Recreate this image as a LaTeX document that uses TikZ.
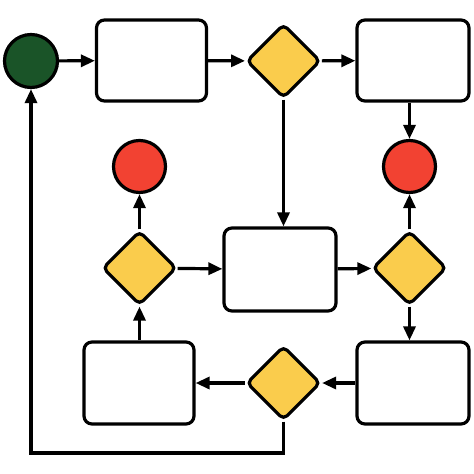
\documentclass[tikz,border=0pt]{standalone}
\usetikzlibrary{shapes.geometric,arrows.meta}
\definecolor{startgreen}{RGB}{26,84,40}
\definecolor{endred}{RGB}{242,66,50}
\definecolor{gateyellow}{RGB}{250,204,76}
\begin{document}
\begin{tikzpicture}[x=1pt,y=-1pt,
  every path/.style={line width=3.2pt},
  flow/.style={line width=3.2pt,-{Triangle[length=14pt,width=12pt]}},
  task/.style={draw,line width=3.2pt,rectangle,rounded corners=8pt,fill=white,inner sep=0pt,minimum width=110pt,minimum height=81pt},
  gate/.style={draw,line width=3.2pt,diamond,aspect=1,rounded corners=5pt,fill=gateyellow,inner sep=0pt,minimum width=74pt,minimum height=74pt},
  startev/.style={draw,line width=3.2pt,circle,fill=startgreen,inner sep=0pt,minimum size=53pt},
  endev/.style={draw,line width=3.2pt,circle,fill=endred,inner sep=0pt,minimum size=52pt}]
\useasboundingbox (0,0) rectangle (474,474);
\node[startev] (s) at (31,61) {};
\node[task] (b1) at (151.5,60.5) {};
\node[gate] (d1) at (283.5,61) {};
\node[task,minimum width=112pt] (b2) at (413,60.5) {};
\node[endev] (r1) at (139.5,166.5) {};
\node[endev] (r2) at (409.5,166.5) {};
\node[gate] (d2) at (139.5,268) {};
\node[task,minimum width=112pt,minimum height=83pt] (b3) at (280,269.5) {};
\node[gate] (d3) at (409.5,268) {};
\node[task,minimum height=82pt] (b4) at (139,383) {};
\node[gate] (d4) at (283.5,383) {};
\node[task,minimum width=112pt,minimum height=82pt] (b5) at (413,383) {};
\coordinate (c1) at (283.5,453);
\coordinate (c2) at (31,453);
\draw[flow] (s) -- (b1);
\draw[flow] (b1) -- (d1);
\draw[flow] (d1) -- (b2);
\draw[flow] (b2.south -| r2) -- (r2);
\draw[flow] (d1) -- (d1 |- b3.north);
\draw[flow] (d2) -- (r1);
\draw[flow] (d2) -- (b3);
\draw[flow] (b3) -- (d3);
\draw[flow] (d3) -- (r2);
\draw[flow] (d3) -- (d3 |- b5.north);
\draw[flow] (b5) -- (d4);
\draw[flow] (d4) -- (b4);
\draw[flow] (b4.north -| d2) -- (d2);
\draw[flow,line join=miter] (d4) -- (c1) -- (c2) -- (s);
\end{tikzpicture}
\end{document}
